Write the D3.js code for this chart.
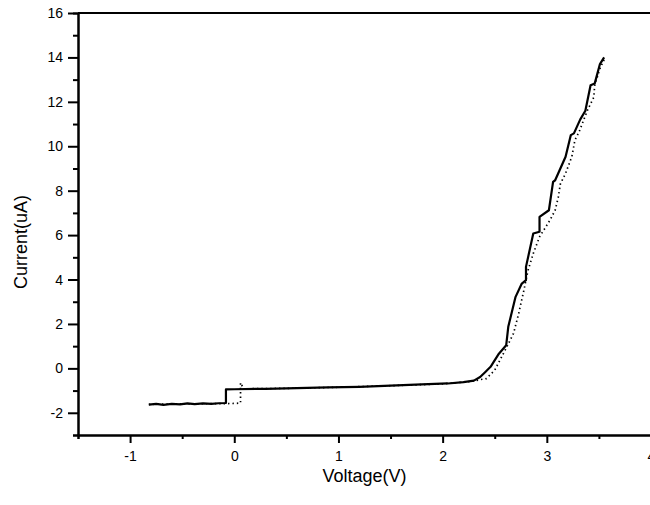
<!DOCTYPE html>
<html>
<head>
<meta charset="utf-8">
<script src="https://cdn.jsdelivr.net/npm/d3@7.9.0/dist/d3.min.js"></script>
<style>
  body { margin: 0; background: #fff; }
  svg { display: block; font-family: "Liberation Sans", Arial, sans-serif; }
  .axis path, .axis line { stroke: #000; stroke-width: 2; }
  .axis text { font-size: 14px; fill: #000; }
</style>
</head>
<body>
<div id="chart"></div>
<script>
// Measured I-V curve (solid) and repeat sweep (dotted)
const solidV = [-0.82, -0.75, -0.68, -0.6, -0.52, -0.45, -0.38, -0.3, -0.22, -0.15, -0.08, -0.08,
  0.0, 0.3, 0.6, 0.9, 1.2, 1.5, 1.8, 2.05, 2.2, 2.3, 2.36, 2.41, 2.46, 2.54, 2.61, 2.63, 2.70,
  2.76, 2.80, 2.80, 2.87, 2.93, 2.93, 3.02, 3.06, 3.08, 3.18, 3.23, 3.26, 3.32, 3.37, 3.42, 3.46, 3.51, 3.55];
const solidI = [-1.63, -1.60, -1.64, -1.60, -1.62, -1.58, -1.61, -1.58, -1.60, -1.57, -1.56, -0.95,
  -0.94, -0.92, -0.89, -0.86, -0.83, -0.78, -0.72, -0.68, -0.62, -0.55, -0.39, -0.16, 0.07, 0.66, 1.04, 1.87, 3.22,
  3.82, 3.97, 4.57, 6.07, 6.15, 6.82, 7.12, 8.4, 8.47, 9.53, 10.5, 10.58, 11.2, 11.6, 12.75, 12.83, 13.7, 14.0];

const dottedV = [-0.82, -0.5, -0.2, 0.0, 0.06, 0.06, 0.09, 0.5, 1.0, 1.5, 2.0, 2.25, 2.42, 2.50, 2.60,
  2.68, 2.73, 2.78, 2.82, 2.87, 2.93, 3.03, 3.08, 3.11, 3.13, 3.18, 3.24, 3.27, 3.31, 3.39, 3.45, 3.46, 3.51, 3.55];
const dottedI = [-1.62, -1.6, -1.59, -1.58, -1.56, -0.65, -0.92, -0.9, -0.85, -0.78, -0.7, -0.6, -0.46, -0.08, 0.82,
  1.57, 2.47, 3.52, 4.42, 5.17, 5.92, 6.67, 7.12, 7.7, 8.3, 8.78, 9.53, 10.28, 10.65, 11.62, 12.2, 12.75, 13.5, 13.9];

const xMajor = [-1, 0, 1, 2, 3, 4];
const xMinor = [-1.5, -0.5, 0.5, 1.5, 2.5, 3.5];
const yMajor = [-2, 0, 2, 4, 6, 8, 10, 12, 14, 16];
const yMinor = [-3, -1, 1, 3, 5, 7, 9, 11, 13, 15];

const width = 650, height = 505;

const svg = d3.select('#chart').append('svg')
  .attr('width', width)
  .attr('height', height);

const x = d3.scaleLinear().domain([-1.5, 4]).range([78, 651]);
const y = d3.scaleLinear().domain([-3, 16]).range([435, 13]);

// top frame line (right side falls outside the picture)
svg.append('line')
  .attr('x1', x(-1.5)).attr('x2', width)
  .attr('y1', y(16)).attr('y2', y(16))
  .attr('stroke', '#000').attr('stroke-width', 2);

// minor ticks first, then the labelled axes
svg.append('g').attr('class', 'axis')
  .attr('transform', `translate(0,${y(-3)})`)
  .call(d3.axisBottom(x).tickValues(xMinor).tickSize(4).tickFormat(''));
svg.append('g').attr('class', 'axis')
  .attr('transform', `translate(0,${y(-3)})`)
  .call(d3.axisBottom(x).tickValues(xMajor).tickSize(8).tickSizeOuter(0).tickPadding(8)
    .tickFormat(d => String(d)));

svg.append('g').attr('class', 'axis')
  .attr('transform', `translate(${x(-1.5)},0)`)
  .call(d3.axisLeft(y).tickValues(yMinor).tickSize(5).tickFormat(''));
svg.append('g').attr('class', 'axis')
  .attr('transform', `translate(${x(-1.5)},0)`)
  .call(d3.axisLeft(y).tickValues(yMajor).tickSize(10).tickSizeOuter(0).tickPadding(5)
    .tickFormat(d => String(d)));

// curves
const line = d3.line().x(d => x(d[0])).y(d => y(d[1]));

svg.append('path')
  .datum(d3.zip(dottedV, dottedI))
  .attr('d', line)
  .attr('fill', 'none')
  .attr('stroke', '#000')
  .attr('stroke-width', 1.7)
  .attr('stroke-dasharray', '1.4,3');

svg.append('path')
  .datum(d3.zip(solidV, solidI))
  .attr('d', line)
  .attr('fill', 'none')
  .attr('stroke', '#000')
  .attr('stroke-width', 2.2)
  .attr('stroke-linejoin', 'round');

// axis titles
svg.append('text')
  .attr('x', (x(-1.5) + x(4)) / 2)
  .attr('y', 482)
  .attr('text-anchor', 'middle')
  .style('font-size', '18px')
  .text('Voltage(V)');

svg.append('text')
  .attr('transform', `translate(27,242) rotate(-90)`)
  .attr('text-anchor', 'middle')
  .style('font-size', '18px')
  .text('Current(uA)');
</script>
</body>
</html>
